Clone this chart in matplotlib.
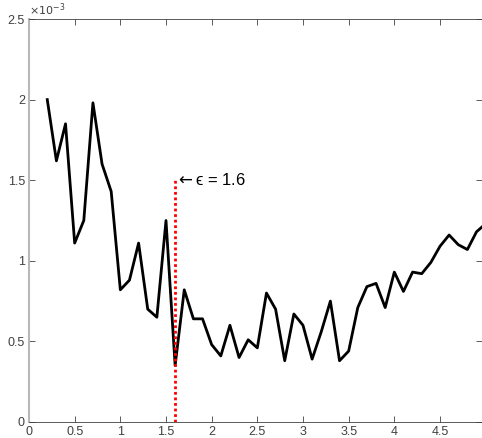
import matplotlib
matplotlib.use("Agg")
import matplotlib.pyplot as plt
import numpy as np

plt.rcParams['font.family'] = ['Liberation Sans', 'DejaVu Sans']

# error values (x 1e-3)
eps = [0.2, 0.3, 0.4, 0.5, 0.6, 0.7, 0.8, 0.9, 1.0, 1.1,
       1.2, 1.3, 1.4, 1.5, 1.6, 1.7, 1.8, 1.9, 2.0, 2.1,
       2.2, 2.3, 2.4, 2.5, 2.6, 2.7, 2.8, 2.9, 3.0, 3.1,
       3.2, 3.3, 3.4, 3.5, 3.6, 3.7, 3.8, 3.9, 4.0, 4.1,
       4.2, 4.3, 4.4, 4.5, 4.6, 4.7, 4.8, 4.9, 5.0]
err = [2.00, 1.62, 1.85, 1.11, 1.25, 1.98, 1.60, 1.43, 0.82, 0.88,
       1.11, 0.70, 0.65, 1.25, 0.35, 0.82, 0.64, 0.64, 0.48, 0.41,
       0.60, 0.40, 0.51, 0.46, 0.80, 0.70, 0.38, 0.67, 0.60, 0.39,
       0.56, 0.75, 0.38, 0.44, 0.71, 0.84, 0.86, 0.71, 0.93, 0.81,
       0.93, 0.92, 0.99, 1.09, 1.16, 1.10, 1.07, 1.18, 1.23]
best_eps = 1.6
best_mark = 1.5

fig = plt.figure(figsize=(4.82, 4.38), dpi=100)
ax = fig.add_axes([29 / 482, 16 / 438, 453 / 482, 403 / 438])

ax.plot(eps, np.array(err) * 1e-3, color='black', linewidth=2.0, zorder=3)
ax.plot([best_eps, best_eps], [0, best_mark * 1e-3], color='red', linestyle=(0, (1, 1)),
        linewidth=2.0, zorder=4)
ax.text(best_eps, best_mark * 1e-3, r'$\leftarrow$' + '\u03f5 = 1.6', fontsize=12,
        va='center', ha='left', color='black')

ax.set_xlim(0, 4.96)
ax.set_ylim(0, 2.5e-3)
ax.set_xticks([0, 0.5, 1, 1.5, 2, 2.5, 3, 3.5, 4, 4.5])
ax.set_xticklabels(['0', '0.5', '1', '1.5', '2', '2.5', '3', '3.5', '4', '4.5'])
ax.set_yticks(np.array([0, 0.5, 1, 1.5, 2, 2.5]) * 1e-3)
ax.set_yticklabels(['0', '0.5', '1', '1.5', '2', '2.5'])
ax.tick_params(direction='in', top=True, right=True, labelsize=9,
               colors='#404040', length=4, width=0.6, pad=3)
for s in ax.spines.values():
    s.set_color('#404040')
    s.set_linewidth(0.6)
ax.spines['left'].set_color('#b8b8b8')
ax.spines['left'].set_linewidth(1.5)

ax.text(0.0, 1.003, r'$\times10^{-3}$', transform=ax.transAxes, fontsize=8,
        color='#404040', ha='left', va='bottom')

fig.savefig('out.png', dpi=100)
